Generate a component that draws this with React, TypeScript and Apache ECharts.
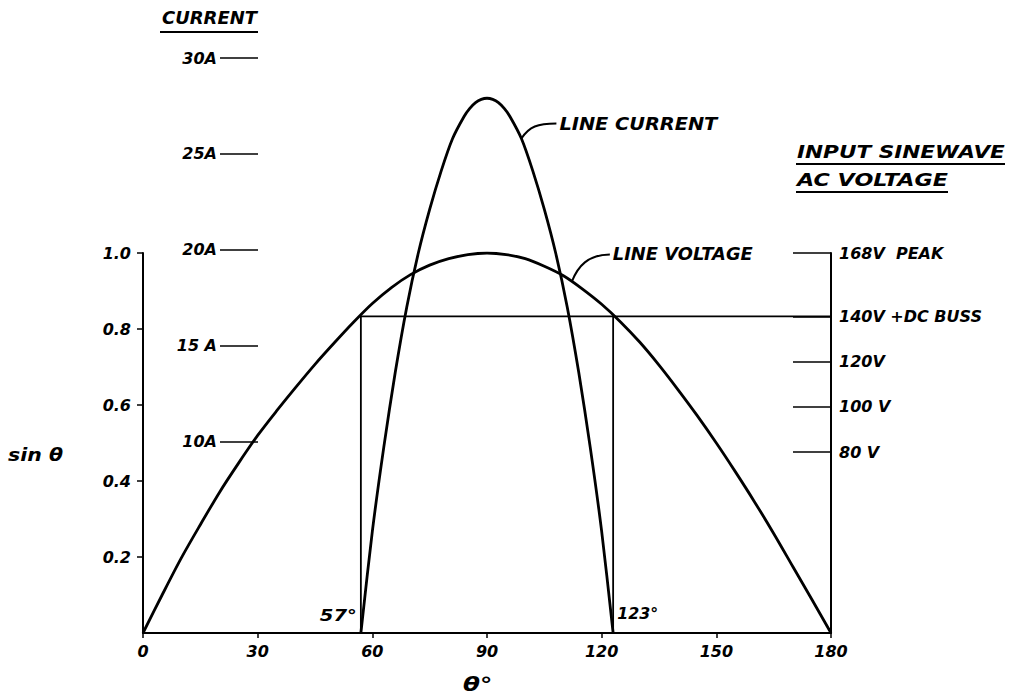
import React, { useEffect, useRef } from "react";
import * as echarts from "echarts";

// ---- data ----
const thetaMin = 0;
const thetaMax = 180;
const thetaStep = 30;

const sinTicks = [0.2, 0.4, 0.6, 0.8, 1.0];
const currentTicks = [10, 15, 20, 25, 30];
const currentTickLabels = ["10A", "15 A", "20A", "25A", "30A"];
const voltTicks = [80, 100, 120, 140, 168];
const voltTickLabels = ["80 V", "100 V", "120V", "140V +DC BUSS", "168V  PEAK"];
const peakVolt = 168;
const busVolt = 140;
const conductionStart = 57;
const conductionEnd = 123;

const voltageTheta = [0, 5, 10, 15, 20, 25, 30, 35, 40, 45, 50, 55, 60, 65, 70, 75, 80, 85, 90, 95, 100, 105, 110, 115, 120, 125, 130, 135, 140, 145, 150, 155, 160, 165, 170, 175, 180];
const voltageSin = [0, 0.1, 0.197, 0.285, 0.37, 0.447, 0.52, 0.585, 0.647, 0.707, 0.763, 0.817, 0.867, 0.909, 0.943, 0.968, 0.985, 0.996, 1.0, 0.996, 0.985, 0.965, 0.94, 0.905, 0.865, 0.818, 0.765, 0.705, 0.64, 0.572, 0.5, 0.424, 0.345, 0.262, 0.175, 0.088, 0];

const currentTheta = [57, 60, 63, 66, 69, 72, 75, 78, 81, 84, 85.5, 87, 88.5, 90, 91.5, 93, 94.5, 96, 99, 102, 105, 108, 111, 114, 117, 120, 123];
const currentAmps = [0, 5.3, 9.7, 13.6, 17.0, 19.8, 22.1, 24.1, 25.8, 26.95, 27.37, 27.67, 27.84, 27.9, 27.84, 27.67, 27.37, 26.95, 25.8, 24.1, 22.1, 19.8, 17.0, 13.6, 9.7, 5.3, 0];

const FONT = '"DejaVu Sans", sans-serif';
const INK = "#000";

function measure(text: string, size: number): number {
  const ctx = document.createElement("canvas").getContext("2d");
  if (!ctx) return text.length * size * 0.7;
  ctx.font = `italic bold ${size}px "DejaVu Sans"`;
  return ctx.measureText(text).width;
}

function label(text: string, x: number, y: number, size: number, refW: number, align: string = "left") {
  const w = measure(text, size);
  const s = Math.max(0.9, Math.min(1.3, refW / w));
  return {
    el: {
      type: "text",
      x,
      y,
      scaleX: s,
      z: 100,
      style: {
        text,
        fill: INK,
        font: `italic bold ${size}px "DejaVu Sans"`,
        align,
        verticalAlign: "middle",
        textAlign: align,
        textVerticalAlign: "middle",
      },
    },
    width: w * s,
  };
}

const axisText = { color: INK, fontSize: 16, fontStyle: "italic", fontWeight: "bold", fontFamily: FONT };

export default function App() {
  const ref = useRef<HTMLDivElement>(null);

  useEffect(() => {
    if (!ref.current) return;
    const chart = echarts.init(ref.current, null, { renderer: "svg" });

    const voltageData = voltageTheta.map((t, i) => [t, voltageSin[i]]);
    const currentData = currentTheta.map((t, i) => [t, currentAmps[i]]);

    const option: any = {
      animation: false,
      backgroundColor: "#fff",
      grid: [
        { left: 143, right: 186, top: 253, bottom: 65, outerBoundsMode: "none" },
        { left: 143, right: 186, top: 58, bottom: 65, outerBoundsMode: "none" },
      ],
      xAxis: [
        {
          gridIndex: 0,
          type: "value",
          min: thetaMin,
          max: thetaMax,
          interval: thetaStep,
          axisLine: { show: true, lineStyle: { color: INK, width: 2 } },
          axisTick: { show: true, length: 5, lineStyle: { color: INK, width: 1.5 } },
          axisLabel: { ...axisText, margin: 10 },
          splitLine: { show: false },
        },
        { gridIndex: 1, type: "value", min: thetaMin, max: thetaMax, show: false },
      ],
      yAxis: [
        {
          gridIndex: 0,
          type: "value",
          min: 0,
          max: 1,
          position: "left",
          axisLine: { show: true, lineStyle: { color: INK, width: 2 } },
          axisTick: { show: true, length: 6, customValues: sinTicks, lineStyle: { color: INK, width: 1.5 } },
          axisLabel: { ...axisText, customValues: sinTicks, margin: 12, formatter: (v: number) => v.toFixed(1) },
          splitLine: { show: false },
        },
        {
          gridIndex: 0,
          type: "value",
          min: 0,
          max: peakVolt,
          position: "right",
          axisLine: { show: true, lineStyle: { color: INK, width: 2 } },
          axisTick: { show: true, inside: true, length: 38, customValues: voltTicks, lineStyle: { color: INK, width: 1.5 } },
          axisLabel: {
            ...axisText,
            customValues: voltTicks,
            margin: 8,
            align: "left",
            formatter: (v: number) => voltTickLabels[voltTicks.indexOf(v)] ?? "",
          },
          splitLine: { show: false },
        },
        {
          gridIndex: 1,
          type: "value",
          min: 0,
          max: 30,
          position: "left",
          offset: -115,
          axisLine: { show: false },
          axisTick: { show: true, length: 38, customValues: currentTicks, lineStyle: { color: INK, width: 1.5 } },
          axisLabel: {
            ...axisText,
            customValues: currentTicks,
            margin: 41,
            formatter: (v: number) => currentTickLabels[currentTicks.indexOf(v)] ?? "",
          },
          splitLine: { show: false },
        },
      ],
      series: [
        {
          type: "line",
          name: "DC bus",
          xAxisIndex: 0,
          yAxisIndex: 1,
          data: [
            [conductionStart, 0],
            [conductionStart, busVolt],
            [thetaMax, busVolt],
          ],
          symbol: "none",
          lineStyle: { color: INK, width: 1.8 },
          z: 2,
        },
        {
          type: "line",
          name: "cutoff",
          xAxisIndex: 0,
          yAxisIndex: 1,
          data: [
            [conductionEnd, 0],
            [conductionEnd, busVolt],
          ],
          symbol: "none",
          lineStyle: { color: INK, width: 1.8 },
          z: 2,
        },
        {
          type: "line",
          name: "LINE VOLTAGE",
          xAxisIndex: 0,
          yAxisIndex: 0,
          data: voltageData,
          smooth: 0.3,
          symbol: "none",
          lineStyle: { color: INK, width: 2.8 },
          z: 3,
        },
        {
          type: "line",
          name: "LINE CURRENT",
          xAxisIndex: 1,
          yAxisIndex: 2,
          data: currentData,
          smooth: 0.3,
          symbol: "none",
          lineStyle: { color: INK, width: 2.8 },
          z: 3,
        },
      ],
    };

    chart.setOption(option);

    const px = (finder: any, pt: number[]) => chart.convertToPixel(finder, pt) as unknown as number[];
    const a57 = px({ xAxisIndex: 0, yAxisIndex: 0 }, [conductionStart, 0]);
    const a123 = px({ xAxisIndex: 0, yAxisIndex: 0 }, [conductionEnd, 0]);
    const aCur = px({ xAxisIndex: 1, yAxisIndex: 2 }, [99, 25.8]);
    const aVolt = px({ xAxisIndex: 0, yAxisIndex: 0 }, [112.2, 0.925]);

    const els: any[] = [];
    const lineEl = (x1: number, y1: number, x2: number, y2: number, w = 2) => ({
      type: "line",
      z: 100,
      shape: { x1, y1, x2, y2 },
      style: { stroke: INK, lineWidth: w },
    });

    // header: CURRENT
    const cur = label("CURRENT", 162, 18, 17, 95);
    els.push(cur.el, lineEl(160, 32, 162 + cur.width + 1, 32, 2));

    // INPUT SINEWAVE / AC VOLTAGE
    const t1 = label("INPUT SINEWAVE", 797, 152, 18, 208);
    const t2 = label("AC VOLTAGE", 797, 180, 18, 151);
    els.push(t1.el, lineEl(796, 164, 797 + t1.width, 164, 2));
    els.push(t2.el, lineEl(796, 192, 797 + t2.width, 192, 2));

    // axis titles
    els.push(label("sin θ", 8, 455, 17, 55).el);
    els.push(label("θ°", 463, 685, 19, 32).el);

    // cutoff angle labels
    els.push(label(`${conductionStart}°`, a57[0] - 4, a57[1] - 18, 16, 37, "right").el);
    els.push(label(`${conductionEnd}°`, a123[0] + 4, a123[1] - 20, 16, 41).el);

    // LINE CURRENT leader + label
    const cEnd = [aCur[0] + 35, aCur[1] - 15];
    els.push({
      type: "bezierCurve",
      z: 100,
      shape: {
        x1: aCur[0], y1: aCur[1],
        cpx1: aCur[0] + 8, cpy1: aCur[1] - 12,
        cpx2: aCur[0] + 16, cpy2: cEnd[1],
        x2: cEnd[0], y2: cEnd[1],
      },
      style: { stroke: INK, lineWidth: 2, fill: null },
    });
    els.push(label("LINE CURRENT", cEnd[0] + 3, cEnd[1] + 0, 17, 158).el);

    // LINE VOLTAGE leader + label
    const vEnd = [aVolt[0] + 38, aVolt[1] - 27];
    els.push({
      type: "bezierCurve",
      z: 100,
      shape: {
        x1: aVolt[0], y1: aVolt[1],
        cpx1: aVolt[0] + 6, cpy1: aVolt[1] - 15,
        cpx2: aVolt[0] + 16, cpy2: vEnd[1],
        x2: vEnd[0], y2: vEnd[1],
      },
      style: { stroke: INK, lineWidth: 2, fill: null },
    });
    els.push(label("LINE VOLTAGE", vEnd[0] + 3, vEnd[1] + 0, 17, 140).el);

    chart.setOption({ graphic: { elements: els } });

    return () => chart.dispose();
  }, []);

  return (
    <div
      ref={ref}
      style={{ position: "fixed", left: 0, top: 0, width: 1017, height: 698, background: "#fff" }}
    />
  );
}
